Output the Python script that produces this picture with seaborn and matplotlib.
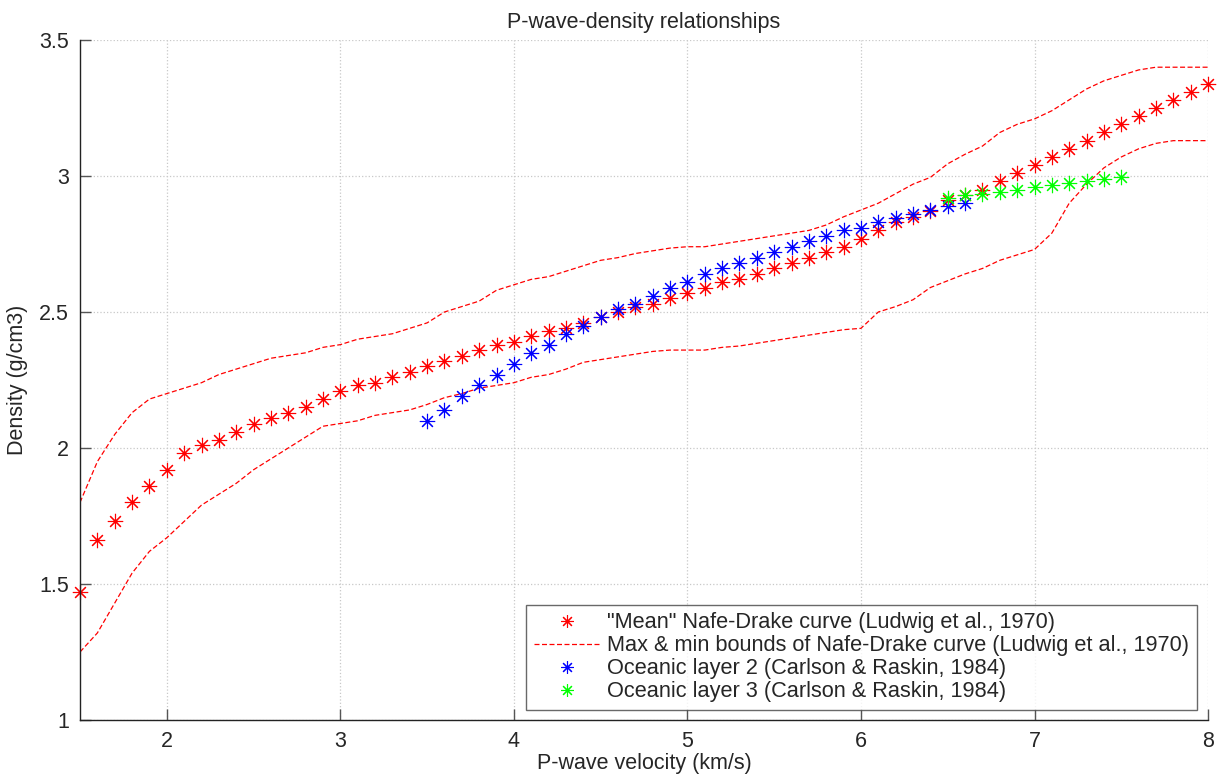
import numpy as np
import pandas as pd
import matplotlib
matplotlib.use("Agg")
import matplotlib.pyplot as plt
from matplotlib.ticker import FuncFormatter
import seaborn as sns

# "Mean" Nafe-Drake curve (Ludwig et al., 1970)
mean_vp = [1.5, 1.6, 1.7, 1.8, 1.9, 2.0, 2.1, 2.2, 2.3, 2.4, 2.5, 2.6, 2.7, 2.8, 2.9,
           3.0, 3.1, 3.2, 3.3, 3.4, 3.5, 3.6, 3.7, 3.8, 3.9, 4.0, 4.1, 4.2, 4.3, 4.4,
           4.5, 4.6, 4.7, 4.8, 4.9, 5.0, 5.1, 5.2, 5.3, 5.4, 5.5, 5.6, 5.7, 5.8, 5.9,
           6.0, 6.1, 6.2, 6.3, 6.4, 6.5, 6.6, 6.7, 6.8, 6.9, 7.0, 7.1, 7.2, 7.3, 7.4,
           7.5, 7.6, 7.7, 7.8, 7.9, 8.0]
mean_rho = [1.47, 1.66, 1.73, 1.80, 1.86, 1.92, 1.98, 2.01, 2.03, 2.06, 2.09, 2.11, 2.13, 2.15, 2.18,
            2.21, 2.23, 2.24, 2.26, 2.28, 2.30, 2.32, 2.34, 2.36, 2.38, 2.39, 2.41, 2.43, 2.44, 2.46,
            2.48, 2.50, 2.52, 2.53, 2.55, 2.57, 2.59, 2.61, 2.62, 2.64, 2.66, 2.68, 2.70, 2.72, 2.74,
            2.77, 2.80, 2.83, 2.85, 2.87, 2.91, 2.93, 2.95, 2.98, 3.01, 3.04, 3.07, 3.10, 3.13, 3.16,
            3.19, 3.22, 3.25, 3.28, 3.31, 3.34]

# Max & min bounds of the Nafe-Drake curve
bound_vp = mean_vp
upper_rho = [1.80, 1.95, 2.05, 2.13, 2.18, 2.20, 2.22, 2.24, 2.27, 2.29, 2.31, 2.33, 2.34, 2.35, 2.37,
             2.38, 2.40, 2.41, 2.42, 2.44, 2.46, 2.50, 2.52, 2.54, 2.58, 2.60, 2.62, 2.63, 2.65, 2.67,
             2.69, 2.70, 2.715, 2.725, 2.735, 2.74, 2.74, 2.75, 2.76, 2.77, 2.78, 2.79, 2.80, 2.82, 2.85,
             2.875, 2.90, 2.935, 2.97, 2.995, 3.045, 3.08, 3.11, 3.16, 3.19, 3.21, 3.24, 3.28, 3.32, 3.35,
             3.37, 3.39, 3.40, 3.40, 3.40, 3.40]
lower_rho = [1.25, 1.32, 1.43, 1.54, 1.62, 1.67, 1.73, 1.79, 1.83, 1.87, 1.92, 1.96, 2.00, 2.04, 2.08,
             2.09, 2.10, 2.12, 2.13, 2.14, 2.16, 2.185, 2.20, 2.22, 2.23, 2.24, 2.26, 2.27, 2.29, 2.315,
             2.325, 2.335, 2.345, 2.355, 2.36, 2.36, 2.36, 2.37, 2.375, 2.385, 2.395, 2.405, 2.415, 2.425, 2.435,
             2.44, 2.50, 2.52, 2.545, 2.59, 2.615, 2.64, 2.66, 2.69, 2.71, 2.73, 2.79, 2.90, 2.97, 3.03,
             3.07, 3.10, 3.12, 3.13, 3.13, 3.13]

# Oceanic layer 2 (Carlson & Raskin, 1984)
layer2_vp = [3.5, 3.6, 3.7, 3.8, 3.9, 4.0, 4.1, 4.2, 4.3, 4.4, 4.5, 4.6, 4.7, 4.8, 4.9, 5.0,
             5.1, 5.2, 5.3, 5.4, 5.5, 5.6, 5.7, 5.8, 5.9, 6.0, 6.1, 6.2, 6.3, 6.4, 6.5, 6.6]
layer2_rho = [2.10, 2.14, 2.19, 2.23, 2.27, 2.31, 2.35, 2.38, 2.42, 2.45, 2.48, 2.51, 2.53, 2.56, 2.59, 2.61,
              2.64, 2.66, 2.68, 2.70, 2.72, 2.74, 2.76, 2.78, 2.80, 2.81, 2.83, 2.845, 2.86, 2.875, 2.89, 2.90]

# Oceanic layer 3 (Carlson & Raskin, 1984)
layer3_vp = [6.5, 6.6, 6.7, 6.8, 6.9, 7.0, 7.1, 7.2, 7.3, 7.4, 7.5]
layer3_rho = [2.92, 2.93, 2.935, 2.943, 2.95, 2.96, 2.968, 2.974, 2.982, 2.988, 2.995]

labels = ['"Mean" Nafe-Drake curve (Ludwig et al., 1970)',
          'Max & min bounds of Nafe-Drake curve (Ludwig et al., 1970)',
          'Oceanic layer 2 (Carlson & Raskin, 1984)',
          'Oceanic layer 3 (Carlson & Raskin, 1984)']

sns.set_style("white")
plt.rcParams["font.family"] = ["Liberation Sans", "DejaVu Sans"]
FS = 15.5
LEG_FS = 15.7

fig = plt.figure(figsize=(12.2, 7.74), dpi=100)
ax = fig.add_axes([0.0656, 0.0698, 0.9246, 0.8785])

asterisk = (8, 2, 0)


def star_kws(color):
    return dict(marker=asterisk, linestyle="", markersize=11, markeredgewidth=0.8,
                markeredgecolor=color, markerfacecolor=color, color=color,
                clip_on=False, estimator=None, sort=False)


sns.lineplot(x=mean_vp, y=mean_rho, label=labels[0], ax=ax, **star_kws("#ff0000"))
sns.lineplot(x=bound_vp, y=upper_rho, color="#ff0000", linewidth=0.9,
             linestyle=(0, (4, 2)), label=labels[1], ax=ax,
             estimator=None, sort=False)
sns.lineplot(x=bound_vp, y=lower_rho, color="#ff0000", linewidth=0.9,
             linestyle=(0, (4, 2)), ax=ax, estimator=None, sort=False)
sns.lineplot(x=layer2_vp, y=layer2_rho, label=labels[2], ax=ax, **star_kws("#0000ff"))
sns.lineplot(x=layer3_vp, y=layer3_rho, label=labels[3], ax=ax, **star_kws("#00ff00"))

ax.set_xlim(1.5, 8)
ax.set_ylim(1, 3.5)
ax.set_xticks([2, 3, 4, 5, 6, 7, 8])
ax.set_yticks([1, 1.5, 2, 2.5, 3, 3.5])
fmt = FuncFormatter(lambda v, p: f"{v:g}")
ax.xaxis.set_major_formatter(fmt)
ax.yaxis.set_major_formatter(fmt)

ax.grid(True, linestyle=":", color="#c8c8c8", linewidth=0.9)
ax.set_axisbelow(True)
for side in ["top", "right"]:
    ax.spines[side].set_visible(False)
for side in ["left", "bottom"]:
    ax.spines[side].set_color("#222222")
    ax.spines[side].set_linewidth(1.0)
ax.tick_params(direction="in", length=8, width=1.0, color="#555555",
               labelsize=FS, left=True, bottom=True, pad=8)

ax.set_xlabel("P-wave velocity (km/s)", fontsize=FS, labelpad=1)
ax.set_ylabel("Density (g/cm3)", fontsize=FS, labelpad=8)
ax.set_title("P-wave-density relationships", fontsize=FS, pad=9)

leg = ax.legend(loc="lower right", bbox_to_anchor=(0.990, 0.0147), fontsize=LEG_FS,
                frameon=True, fancybox=False, edgecolor="#444444",
                borderpad=0.35, labelspacing=0.09, handlelength=3.05,
                handletextpad=0.3, borderaxespad=0.0)
leg.get_frame().set_linewidth(1.0)
for h in leg.legend_handles:
    h.set_markersize(9)

fig.savefig("out.png", dpi=100)
